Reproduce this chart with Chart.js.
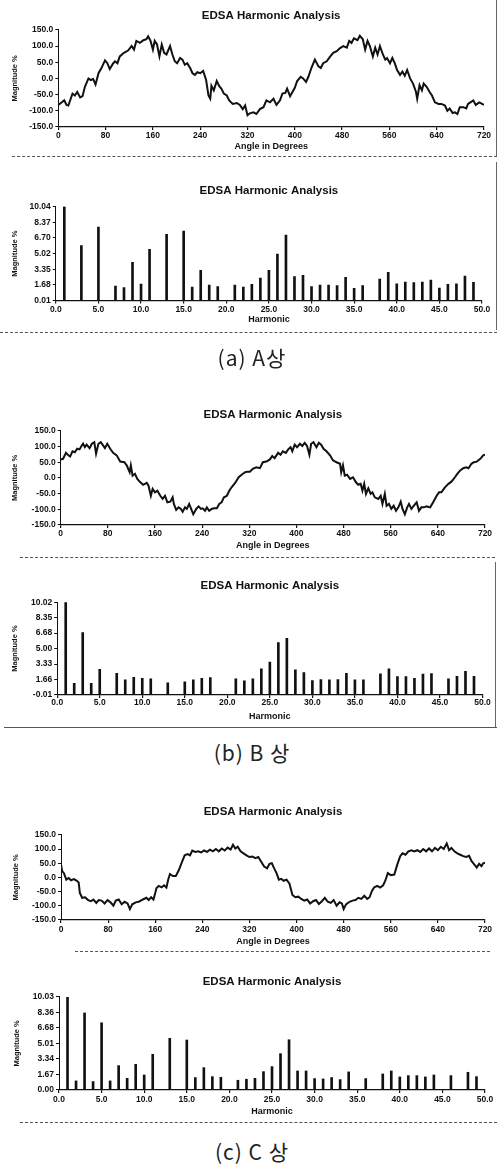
<!DOCTYPE html>
<html>
<head>
<meta charset="utf-8">
<script src="https://cdn.jsdelivr.net/npm/chart.js@4.4.1/dist/chart.umd.min.js"></script>
<style>
  html, body { margin: 0; padding: 0; background: #fff; }
  body { width: 498px; height: 1166px; position: relative; overflow: hidden; }
  canvas { position: absolute; left: 0; }
  .sep { position: absolute; height: 0; border-top: 1px dashed #555; }
  .vline { position: absolute; width: 0; border-left: 1px solid #666; }
  .cap { position: absolute; left: 0; width: 504px; text-align: center; line-height: 1;
         font-family: "Noto Sans CJK KR", "Noto Sans", sans-serif; font-size: 21px;
         color: #222; letter-spacing: 1px; }
</style>
</head>
<body>
<canvas id="waveA"></canvas>
<canvas id="harmA"></canvas>
<canvas id="waveB"></canvas>
<canvas id="harmB"></canvas>
<canvas id="waveC"></canvas>
<canvas id="harmC"></canvas>

<div class="sep" style="top:156px;left:12px;width:485px"></div>
<div class="sep" style="top:332px;left:0;width:497px"></div>
<div class="sep" style="top:557px;left:20px;width:475px"></div>
<div class="sep" style="top:727px;left:4px;width:493px;border-top-style:solid"></div>
<div class="sep" style="top:951px;left:75px;width:415px"></div>
<div class="sep" style="top:1122px;left:20px;width:477px"></div>
<div class="vline" style="left:496px;top:0;height:156px"></div>
<div class="vline" style="left:496px;top:162px;height:168px"></div>
<div class="vline" style="left:495px;top:562px;height:165px"></div>

<div class="cap" style="top:347px">(a) A상</div>
<div class="cap" style="top:742px">(b) B 상</div>
<div class="cap" style="top:1141px">(c) C 상</div>

<script>
// ---- 파형 데이터 (각도, 크기 %) ----
const anglesA = [0, 6, 10, 14, 17, 21, 24, 28, 32, 37, 41, 45, 51, 55, 59, 63, 68, 73, 79, 83, 87, 93, 96, 100, 104, 111, 118, 124, 128, 132, 138, 144, 149, 152, 156, 160, 163, 167, 171, 175, 179, 183, 189, 193, 197, 201, 206, 210, 214, 218, 223, 227, 231, 235, 240, 245, 250, 254, 257, 259, 263, 268, 272, 276, 280, 285, 289, 295, 302, 307, 312, 316, 320, 324, 330, 335, 341, 347, 352, 358, 364, 369, 375, 379, 384, 387, 392, 396, 400, 404, 410, 414, 419, 423, 428, 434, 440, 444, 448, 454, 460, 465, 471, 476, 482, 488, 492, 496, 500, 506, 510, 515, 519, 523, 527, 532, 536, 540, 544, 549, 553, 556, 561, 565, 569, 573, 578, 582, 586, 590, 595, 600, 605, 607, 611, 615, 618, 623, 628, 632, 637, 643, 648, 654, 658, 662, 667, 671, 675, 679, 685, 690, 693, 697, 702, 706, 712, 720];
const valuesA = [-82, -74, -68, -82, -84, -63, -47, -53, -42, -59, -55, -26, 0, -5, -2, -19, 16, 32, 56, 47, 29, 47, 53, 47, 68, 79, 86, 100, 89, 116, 110, 118, 121, 130, 116, 89, 116, 105, 68, 105, 79, 74, 100, 74, 53, 47, 63, 58, 42, 47, 32, 16, 11, 19, 16, 23, -5, -53, -63, -23, -37, -8, -23, -32, -47, -53, -68, -79, -76, -82, -95, -84, -114, -108, -105, -110, -95, -89, -68, -74, -63, -82, -68, -47, -45, -32, -55, -42, -29, -8, 5, 0, -11, 5, 32, 58, 37, 32, 47, 53, 68, 79, 84, 93, 100, 95, 116, 110, 124, 118, 132, 121, 89, 116, 100, 68, 95, 74, 100, 74, 58, 63, 47, 63, 47, 26, 11, 21, 8, 26, 0, -16, -42, -63, -21, -37, -16, -26, -42, -53, -74, -79, -79, -84, -100, -93, -107, -105, -110, -89, -89, -93, -79, -74, -68, -82, -74, -82];

const anglesB = [0, 4, 9, 13, 16, 20, 24, 28, 32, 36, 38, 41, 44, 49, 53, 57, 60, 64, 68, 71, 75, 79, 84, 89, 95, 101, 108, 112, 117, 119, 122, 126, 130, 135, 140, 146, 149, 153, 156, 160, 164, 169, 173, 177, 181, 186, 190, 192, 196, 200, 204, 207, 211, 214, 218, 221, 225, 230, 234, 238, 241, 245, 248, 252, 256, 260, 265, 269, 273, 277, 282, 286, 290, 296, 302, 307, 313, 317, 321, 326, 332, 338, 343, 349, 355, 359, 363, 369, 373, 377, 382, 386, 390, 393, 397, 401, 406, 410, 414, 418, 422, 425, 429, 434, 438, 442, 446, 451, 457, 462, 468, 474, 476, 479, 482, 486, 491, 496, 501, 505, 509, 512, 515, 518, 522, 526, 529, 533, 539, 543, 546, 550, 553, 557, 561, 565, 569, 573, 577, 580, 584, 588, 591, 595, 599, 604, 608, 612, 616, 621, 627, 632, 638, 642, 646, 652, 658, 663, 669, 673, 678, 683, 688, 692, 697, 701, 706, 712, 717, 720];
const valuesB = [59, 61, 80, 72, 68, 85, 82, 93, 91, 104, 109, 98, 106, 95, 109, 114, 77, 109, 114, 106, 95, 109, 93, 80, 72, 52, 50, 40, 18, 40, 7, 13, -3, -14, -22, -16, -25, -57, -35, -46, -41, -57, -67, -57, -78, -76, -62, -83, -102, -94, -99, -108, -94, -99, -83, -97, -116, -99, -91, -99, -97, -105, -94, -105, -99, -97, -97, -83, -78, -62, -57, -41, -30, -16, 2, 10, 18, 20, 20, 29, 34, 31, 50, 52, 59, 70, 63, 80, 74, 85, 80, 91, 98, 85, 106, 98, 109, 102, 112, 102, 74, 109, 114, 98, 112, 106, 93, 85, 72, 56, 50, 45, 18, 40, 7, 10, -3, 2, -14, -22, -19, -41, -19, -51, -33, -51, -46, -62, -67, -57, -83, -51, -89, -83, -99, -89, -105, -94, -76, -99, -116, -94, -83, -99, -89, -78, -105, -94, -94, -91, -94, -78, -57, -46, -46, -30, -19, -12, 2, 13, 24, 31, 34, 31, 45, 50, 52, 61, 72, 74];

const anglesC = [0, 2, 5, 9, 13, 17, 22, 27, 30, 32, 36, 41, 46, 51, 55, 60, 64, 69, 74, 79, 84, 89, 93, 98, 103, 108, 113, 117, 121, 127, 133, 139, 145, 149, 153, 157, 160, 162, 166, 171, 175, 179, 182, 185, 190, 195, 200, 205, 210, 215, 219, 223, 228, 233, 238, 243, 248, 253, 258, 263, 268, 273, 278, 283, 288, 292, 296, 300, 305, 310, 315, 320, 325, 330, 335, 340, 345, 350, 354, 358, 362, 366, 370, 374, 378, 383, 388, 393, 398, 403, 408, 413, 418, 423, 428, 433, 438, 443, 448, 453, 458, 463, 468, 473, 477, 480, 484, 490, 495, 500, 505, 510, 515, 520, 524, 528, 532, 537, 542, 547, 551, 555, 560, 566, 571, 576, 580, 585, 590, 595, 600, 605, 610, 615, 620, 625, 630, 635, 640, 645, 650, 655, 659, 663, 668, 673, 678, 683, 688, 693, 697, 702, 706, 710, 714, 717, 720];
const valuesC = [45, 22, 15, -8, -2, -10, -6, -12, -18, -55, -72, -70, -80, -84, -78, -90, -80, -82, -92, -80, -88, -100, -82, -78, -95, -86, -92, -112, -95, -88, -85, -78, -72, -80, -70, -78, -55, -38, -30, -35, -28, -36, -8, 12, 5, 5, 25, 52, 78, 82, 78, 95, 90, 92, 88, 95, 90, 98, 92, 100, 92, 102, 95, 105, 98, 115, 102, 108, 92, 85, 78, 72, 74, 68, 72, 55, 38, 32, 48, 50, 32, 15, -8, -5, -12, -8, -22, -62, -70, -68, -76, -82, -78, -92, -84, -80, -94, -84, -72, -86, -90, -80, -100, -88, -92, -112, -95, -86, -82, -80, -72, -76, -65, -76, -70, -48, -35, -30, -36, -28, -10, 15, 8, 10, 45, 75, 85, 80, 92, 96, 92, 96, 90, 100, 92, 102, 92, 104, 96, 108, 100, 120, 96, 104, 92, 85, 80, 75, 72, 76, 58, 45, 35, 48, 40, 50, 52];

const waveTicks = [-150, -100, -50, 0, 50, 100, 150];

// ---- 고조파 데이터 (차수, 크기 %) ----
const ordersA = [1, 3, 5, 7, 8, 9, 10, 11, 13, 15, 16, 17, 18, 19, 21, 22, 23, 24, 25, 26, 27, 28, 29, 30, 31, 32, 33, 34, 35, 36, 38, 39, 40, 41, 42, 43, 44, 45, 46, 47, 48, 49];
const magA = [10.04, 5.88, 7.85, 1.57, 1.39, 4.09, 1.78, 5.48, 7.08, 7.44, 1.46, 3.24, 1.67, 1.50, 1.67, 1.46, 1.74, 2.42, 3.24, 4.98, 7.01, 2.56, 2.70, 1.50, 1.67, 1.67, 1.60, 2.49, 1.32, 1.60, 2.31, 3.02, 1.81, 1.99, 1.92, 1.99, 2.21, 1.35, 1.74, 1.81, 2.63, 1.96];
const yTicksA = [0.01, 1.68, 3.35, 5.02, 6.70, 8.37, 10.04];

const ordersB = [1, 2, 3, 4, 5, 7, 8, 9, 10, 11, 13, 15, 16, 17, 18, 21, 22, 23, 24, 25, 26, 27, 28, 29, 30, 31, 32, 33, 34, 35, 36, 38, 39, 40, 41, 42, 43, 44, 46, 47, 48, 49];
const magB = [10.02, 1.25, 6.74, 1.25, 2.77, 2.33, 1.61, 1.90, 1.79, 1.72, 1.29, 1.40, 1.61, 1.79, 1.87, 1.72, 1.50, 1.72, 2.80, 3.53, 5.65, 6.12, 2.70, 2.41, 1.54, 1.65, 1.61, 1.65, 2.33, 1.61, 1.61, 2.26, 2.80, 1.97, 1.97, 1.79, 2.23, 2.30, 1.72, 2.01, 2.55, 2.01];
const yTicksB = [-0.01, 1.66, 3.33, 5.00, 6.68, 8.35, 10.02];

const ordersC = [1, 2, 3, 4, 5, 6, 7, 8, 9, 10, 11, 13, 15, 16, 17, 18, 19, 21, 22, 23, 24, 25, 26, 27, 28, 29, 30, 31, 32, 33, 34, 36, 38, 39, 40, 41, 42, 43, 44, 46, 48, 49];
const magC = [10.03, 0.97, 8.30, 0.90, 7.24, 0.97, 2.62, 1.25, 2.76, 1.61, 3.84, 5.56, 5.38, 1.33, 2.40, 1.43, 1.36, 1.04, 1.15, 1.25, 1.97, 2.51, 3.91, 5.41, 2.04, 2.04, 1.22, 1.18, 1.33, 1.11, 1.94, 1.22, 1.72, 2.04, 1.40, 1.54, 1.54, 1.40, 1.61, 1.54, 1.90, 1.43];
const yTicksC = [0.00, 1.67, 3.34, 5.01, 6.68, 8.36, 10.03];

const FONT = "'Liberation Sans', Arial, sans-serif";
const INK = '#111';
const TITLE_SIZE = 11.5;
const TICK_SIZE = 8.5;
const AXIS_SIZE = 9;

// 각 패널의 위치 (페이지 좌표, px)
function drawPanel(id, g, isWave, xs, ys, yTicks) {
    const canvas = document.getElementById(id);
    const titleLH = TITLE_SIZE * 1.2;
    const top = g.title - 8 - titleLH / 2;
    const height = g.xTitle + 6 - top;
    canvas.style.top = top + 'px';
    canvas.width = 498;
    canvas.height = Math.round(height);

    const points = xs.map((x, i) => ({ x: x, y: ys[i] }));
    const tickFont = { family: FONT, size: TICK_SIZE, weight: 'bold', lineHeight: 1.2 };

    new Chart(canvas, {
        type: isWave ? 'line' : 'bar',
        data: {
            datasets: [{
                data: points,
                borderColor: INK,
                backgroundColor: INK,
                borderWidth: isWave ? 2 : 0,
                pointRadius: 0,
                tension: 0,
                barThickness: 2
            }]
        },
        options: {
            responsive: false,
            animation: false,
            events: [],
            layout: { padding: { top: 8, right: 498 - g.right, bottom: 0, left: 0 } },
            plugins: {
                legend: { display: false },
                tooltip: { enabled: false },
                title: {
                    display: true,
                    text: 'EDSA Harmonic Analysis',
                    fullSize: false,
                    color: INK,
                    font: { family: FONT, size: TITLE_SIZE, weight: 'bold', lineHeight: 1.2 },
                    padding: { top: 0, bottom: g.plotTop - (top + 8 + titleLH) }
                }
            },
            scales: {
                x: {
                    type: 'linear',
                    min: 0,
                    max: isWave ? 720 : 50,
                    offset: false,
                    afterFit: s => { s.height = top + Math.round(height) - g.plotBottom; },
                    ticks: {
                        stepSize: isWave ? 80 : 5,
                        autoSkip: false,
                        maxRotation: 0,
                        padding: g.xLabel - g.plotBottom - 3 - TICK_SIZE * 0.6,
                        color: INK,
                        font: tickFont,
                        callback: v => isWave ? String(v) : v.toFixed(1)
                    },
                    grid: { drawOnChartArea: false, tickLength: 3, color: INK, lineWidth: 1.2, offset: false },
                    border: { display: true, color: INK, width: 1.2, dash: isWave ? [1.2, 4.7] : [1.2, 7.3] },
                    title: {
                        display: true,
                        text: isWave ? 'Angle in Degrees' : 'Harmonic',
                        color: INK,
                        font: { family: FONT, size: AXIS_SIZE, weight: 'bold', lineHeight: 1.2 },
                        padding: { top: 0, bottom: 6 - AXIS_SIZE * 0.6 }
                    }
                },
                y: {
                    min: yTicks[0],
                    max: yTicks[yTicks.length - 1],
                    afterFit: s => { s.width = g.left; },
                    afterBuildTicks: s => { s.ticks = yTicks.map(v => ({ value: v })); },
                    ticks: {
                        padding: 2,
                        color: INK,
                        font: tickFont,
                        callback: v => isWave ? v.toFixed(1) : v.toFixed(2)
                    },
                    grid: { drawOnChartArea: false, tickLength: 3, color: INK, lineWidth: 1 },
                    border: { display: true, color: INK, width: 1, dash: [1, 2] },
                    title: {
                        display: true,
                        text: 'Magnitude %',
                        color: INK,
                        font: { family: FONT, size: 7.5, weight: 'bold', lineHeight: 1.2 },
                        padding: { top: g.yTitleX - 4.5, bottom: 0 }
                    }
                }
            }
        }
    });
}

drawPanel('waveA', { title: 16, plotTop: 30, plotBottom: 127, xLabel: 136, xTitle: 147, left: 58.3, right: 484, yTitleX: 15 }, true, anglesA, valuesA, waveTicks);
drawPanel('harmA', { title: 191, plotTop: 206.7, plotBottom: 300.7, xLabel: 310, xTitle: 320, left: 55.8, right: 482, yTitleX: 15 }, false, ordersA, magA, yTicksA);
drawPanel('waveB', { title: 415, plotTop: 431, plotBottom: 525, xLabel: 534, xTitle: 546, left: 60.7, right: 485, yTitleX: 15 }, true, anglesB, valuesB, waveTicks);
drawPanel('harmB', { title: 586, plotTop: 602.3, plotBottom: 695, xLabel: 703, xTitle: 717, left: 57.2, right: 482.5, yTitleX: 15 }, false, ordersB, magB, yTicksB);
drawPanel('waveC', { title: 812, plotTop: 835, plotBottom: 920, xLabel: 930, xTitle: 942, left: 61, right: 485, yTitleX: 16 }, true, anglesC, valuesC, waveTicks);
drawPanel('harmC', { title: 982, plotTop: 997, plotBottom: 1090, xLabel: 1100, xTitle: 1112, left: 59, right: 485, yTitleX: 17 }, false, ordersC, magC, yTicksC);
</script>
</body>
</html>
